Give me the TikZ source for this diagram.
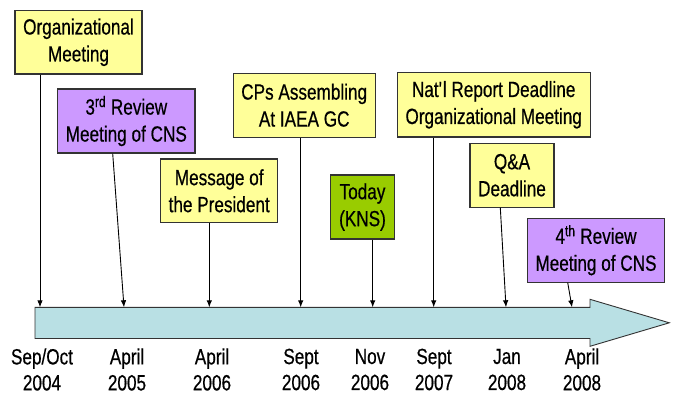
\documentclass[tikz,border=0pt]{standalone}
\usepackage{fontspec}
\setmainfont{Liberation Sans}[FakeStretch=0.78,FakeBold=0.5]
\usetikzlibrary{arrows.meta}
\definecolor{noteyellow}{HTML}{FFFF99}
\definecolor{notepurple}{HTML}{CC99FF}
\definecolor{notegreen}{HTML}{99CC00}
\definecolor{timeteal}{HTML}{B9E0E4}
\definecolor{edgegray}{HTML}{333333}
\tikzset{
  note/.style={draw=edgegray, line width=1.1pt, align=center, inner sep=0pt,
    font=\fontsize{22}{27}\selectfont},
  yellownote/.style={note, fill=noteyellow},
  purplenote/.style={note, fill=notepurple},
  greennote/.style={note, fill=notegreen},
  datelabel/.style={align=center, inner sep=0pt, font=\fontsize{22}{26}\selectfont},
  conn/.style={line width=0.9pt, -{Latex[length=7pt,width=5.5pt]}},
}
\begin{document}
\begin{tikzpicture}[x=1pt,y=-1pt]
\useasboundingbox (0,0) rectangle (676,394);

% timeline arrow
\draw[edgegray, line width=0.9pt, fill=timeteal]
  (35,307.3) -- (590,307.3) -- (590,299.3) -- (669.3,322.8) -- (590,346.3)
  -- (590,338.5) -- (35,338.5) -- cycle;

% points on the top edge of the timeline
\coordinate (t1) at (40,307.3);
\coordinate (t2) at (124,307.3);
\coordinate (t3) at (209.3,307.3);
\coordinate (t4) at (300.7,307.3);
\coordinate (t5) at (372.7,307.3);
\coordinate (t6) at (433.7,307.3);
\coordinate (t7) at (506,307.3);
\coordinate (t8) at (572,307.3);

% event notes
\node[yellownote, minimum width=127pt, minimum height=63.3pt] (org) at (78.5,42.3)
  {Organizational\\Meeting};
\node[purplenote, minimum width=137.3pt, minimum height=64pt] (rev3) at (126.3,121)
  {3\textsuperscript{rd} Review\\Meeting of CNS};
\node[yellownote, minimum width=117pt, minimum height=63.7pt] (msg) at (219.2,190.8)
  {Message of\\the President};
\node[yellownote, minimum width=141.7pt, minimum height=63.7pt] (cps) at (304.2,105.2)
  {CPs Assembling\\At IAEA GC};
\node[greennote, minimum width=63.6pt, minimum height=64pt] (today) at (362.5,207)
  {Today\\(KNS)};
\node[yellownote, minimum width=192.7pt, minimum height=64.3pt] (natl) at (493.7,104.8)
  {Nat\textquotesingle l Report Deadline\\Organizational Meeting};
\node[yellownote, minimum width=84pt, minimum height=63.7pt] (qa) at (512,175.2)
  {Q\&A\\Deadline};
\node[purplenote, minimum width=136.6pt, minimum height=63.7pt] (rev4) at (596,250.2)
  {4\textsuperscript{th} Review\\Meeting of CNS};

% connectors from notes to the timeline
\draw[conn] (org.south -| t1) -- (t1);
\draw[conn] ([xshift=-13.6pt]rev3.south) -- (t2);
\draw[conn] (msg.south -| t3) -- (t3);
\draw[conn] (cps.south -| t4) -- (t4);
\draw[conn] (today.south -| t5) -- (t5);
\draw[conn] (natl.south -| t6) -- (t6);
\draw[conn] ([xshift=-11.7pt]qa.south) -- (t7);
\draw[conn] ([xshift=-28.3pt]rev4.south) -- (t8);

% dates under the timeline
\node[datelabel] (d1) at (42,369.5) {Sep/Oct\\2004};
\node[datelabel] (d2) at (127,369.5) {April\\2005};
\node[datelabel] (d3) at (212,369.5) {April\\2006};
\node[datelabel] (d4) at (301,369.5) {Sept\\2006};
\node[datelabel] (d5) at (370,369.5) {Nov\\2006};
\node[datelabel] (d6) at (434,369.5) {Sept\\2007};
\node[datelabel] (d7) at (507,369.5) {Jan\\2008};
\node[datelabel] (d8) at (582,369.5) {April\\2008};
\end{tikzpicture}
\end{document}
